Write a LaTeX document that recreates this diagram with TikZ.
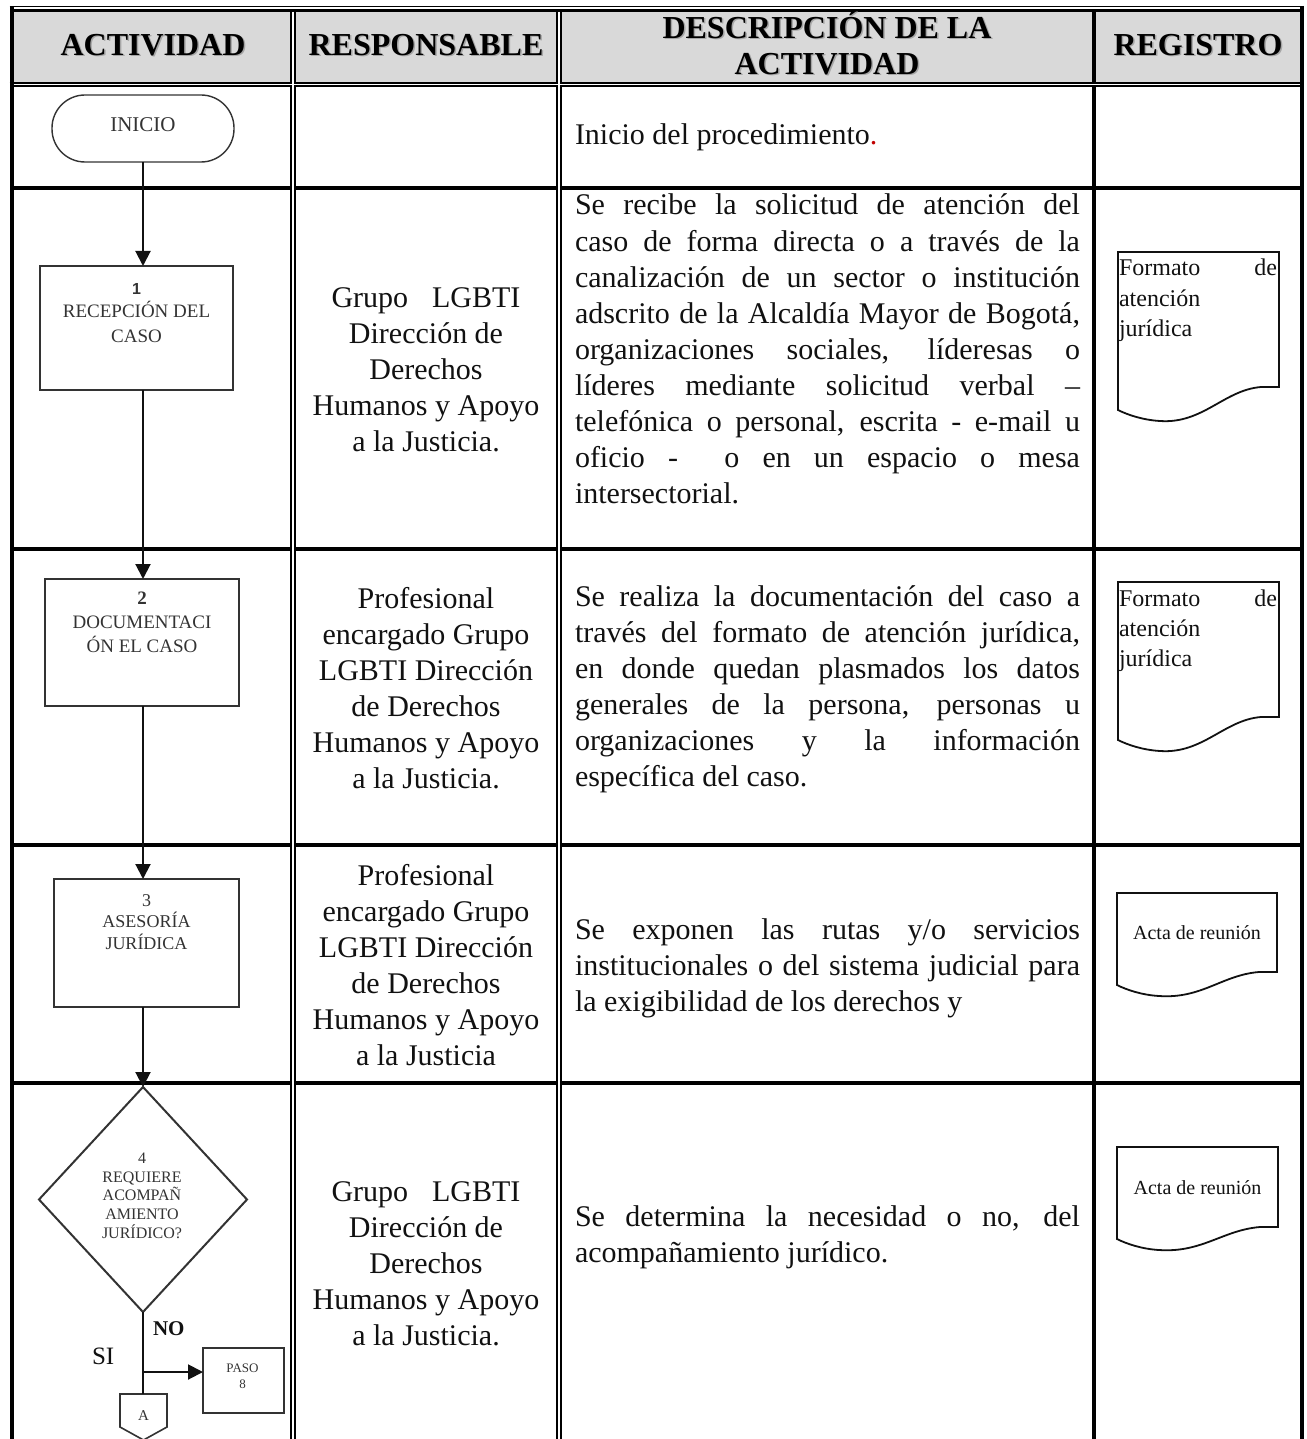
\documentclass[tikz,border=0pt]{standalone}
\usepackage{fontspec}
\setmainfont{Liberation Serif}
\newfontfamily\arialf{Liberation Sans}
\usetikzlibrary{arrows.meta,shapes.geometric}
\definecolor{hdrgray}{HTML}{D9D9D9}
\definecolor{ink}{HTML}{111111}
\definecolor{fcink}{HTML}{333333}
\definecolor{dotred}{HTML}{C00000}
\newcommand\jl[1]{\makebox[\linewidth][s]{#1}}
\newcommand\docshape[5]{%
  \draw[docline] (#1,#2) -- (#3,#2) -- (#3,#4) -- ({#3-18},#4)
    .. controls ({#3-55},{#4+3}) and ({#1+85},{#5+14}) .. ({#1+42},{#5+11})
    .. controls ({#1+25},{#5+10}) and ({#1+10},{#5+5}) .. (#1,#5) -- cycle;}
\begin{document}
\begin{tikzpicture}[x=1pt,y=-1pt,
  every node/.style={inner sep=0pt, outer sep=0pt},
  hdr/.style={anchor=base, font=\fontsize{32}{38}\selectfont\bfseries, text=black},
  hdrsh/.style={hdr, text=black!35},
  desc/.style={anchor=base west, font=\fontsize{30}{36}\selectfont, text=ink},
  resp/.style={anchor=base, font=\fontsize{30}{36}\selectfont, text=ink},
  fbox/.style={draw=fcink, line width=2pt},
  fctext/.style={anchor=base, text=fcink},
  arr/.style={draw=ink, line width=2pt, -{Triangle[width=15pt,length=15pt]}},
  flow/.style={draw=ink, line width=2pt},
  docline/.style={draw=ink, line width=1.8pt},
  regtext/.style={anchor=base west, font=\fontsize{24}{30}\selectfont, text=ink},
  acttext/.style={anchor=base, font=\fontsize{20}{24}\selectfont, text=ink},
  rowline/.style={line width=4pt, black},
  gap/.style={white}]
\useasboundingbox (0,0) rectangle (1306,1439);
% ---- table ----
\fill[hdrgray] (13,11) rectangle (1300,83);
\foreach \yy in {188,549,845,1083} \draw[rowline] (10,\yy) -- (1304,\yy);
\draw[line width=4pt] (11.5,6) -- (11.5,1445);
\draw[line width=4pt] (1302,6) -- (1302,1445);
\draw[line width=3.5pt] (1094,6) -- (1094,1445);
\draw[line width=6pt] (293,6) -- (293,1445);
\draw[line width=6pt] (559,6) -- (559,1445);
\draw[line width=6pt] (9.5,9) -- (1304,9);
\draw[line width=5.5pt] (9.5,84.5) -- (1304,84.5);
\draw[gap, line width=1.5pt] (13.5,8) -- (1300,8);
\draw[gap, line width=2pt] (293,12) -- (293,1445);
\draw[gap, line width=2pt] (559,12) -- (559,1445);
\draw[gap, line width=1.6pt] (13.5,84.5) -- (1300,84.5);
% ---- header ----
\node[hdrsh] (h1s) at (154.5,57) {ACTIVIDAD};
\node[hdr] (h1) at (153,55.5) {ACTIVIDAD};
\node[hdrsh] (h2s) at (427.5,57) {RESPONSABLE};
\node[hdr] (h2) at (426,55.5) {RESPONSABLE};
\node[hdrsh] (h3as) at (828.5,40) {DESCRIPCIÓN DE LA};
\node[hdr] (h3a) at (827,38.5) {DESCRIPCIÓN DE LA};
\node[hdrsh] (h3bs) at (828.5,76) {ACTIVIDAD};
\node[hdr] (h3b) at (827,74.5) {ACTIVIDAD};
\node[hdrsh] (h4s) at (1199.5,57) {REGISTRO};
\node[hdr] (h4) at (1198,55.5) {REGISTRO};
% ---- flowchart ----
\node[fbox, line width=1.4pt, rounded corners=33pt, minimum width=182pt, minimum height=67pt] (ini) at (143,128.5) {};
\node[fctext, font=\fontsize{21}{25}\selectfont] (init) at (143,132) {INICIO};
\node[fbox, minimum width=193pt, minimum height=124pt] (b1) at (136.5,328) {};
\node[fctext, font=\fontsize{19}{24}\selectfont] (b1t) at (136.5,294)
  {\begin{tabular}[t]{@{}c@{}}{\arialf\bfseries\fontsize{16}{24}\selectfont 1}\\RECEPCIÓN DEL\\CASO\end{tabular}};
\node[fbox, minimum width=194pt, minimum height=127pt] (b2) at (142,642.5) {};
\node[fctext, font=\fontsize{19}{24}\selectfont] (b2t) at (142,604.5)
  {\begin{tabular}[t]{@{}c@{}}\textbf{2}\\DOCUMENTACI\\ÓN EL CASO\end{tabular}};
\node[fbox, minimum width=185pt, minimum height=128pt] (b3) at (146.5,943) {};
\node[fctext, font=\fontsize{18}{21}\selectfont] (b3t) at (146.5,906)
  {\begin{tabular}[t]{@{}c@{}}3\\ASESORÍA\\JURÍDICA\end{tabular}};
\node[fbox, shape=diamond, minimum width=208pt, minimum height=225pt] (d4) at (143,1199.5) {};
\node[fctext, font=\fontsize{16}{18.5}\selectfont] (d4t) at (142,1163.5)
  {\begin{tabular}[t]{@{}c@{}}4\\REQUIERE\\ACOMPAÑ\\AMIENTO\\JURÍDICO?\end{tabular}};
\node[fbox, line width=1.6pt, minimum width=81pt, minimum height=65pt] (p8) at (243.5,1380.5) {};
\node[fctext, font=\fontsize{13}{16}\selectfont] (p8t) at (242.5,1372)
  {\begin{tabular}[t]{@{}c@{}}PASO\\8\end{tabular}};
\draw[fbox, line width=1.6pt] (120,1394) -- (167,1394) -- (167,1427) -- (143.5,1440) -- (120,1427) -- cycle;
\node[fctext, font=\fontsize{15}{18}\selectfont] (conA) at (143.5,1420) {A};
\coordinate (atop) at (143,1394);
\coordinate (jn) at (143,1372);
\draw[arr] (ini.south) -- (ini.south |- b1.north);
\draw[arr] (b1.south -| ini.south) -- (b2.north -| ini.south);
\draw[arr] (b2.south -| ini.south) -- (b3.north -| ini.south);
\draw[arr] (b3.south -| ini.south) -- (d4.north);
\draw[flow] (d4.south) -- (atop);
\draw[arr] (jn) -- (jn -| p8.west);
\node[anchor=base west, font=\fontsize{21}{25}\selectfont\bfseries, text=ink] (lno) at (153,1335) {NO};
\node[anchor=base west, font=\fontsize{25}{30}\selectfont, text=ink] (lsi) at (92,1364) {SI};
% ---- responsables ----
\node[resp] (r2) at (426,307) {\begin{minipage}[t]{262pt}\centering
Grupo\hspace{0.8em}LGBTI\\Dirección de\\Derechos\\Humanos y Apoyo\\a la Justicia.\end{minipage}};
\node[resp] (r3) at (426,608) {\begin{minipage}[t]{262pt}\centering
Profesional\\encargado Grupo\\LGBTI Dirección\\de Derechos\\Humanos y Apoyo\\a la Justicia.\end{minipage}};
\node[resp] (r4) at (426,885) {\begin{minipage}[t]{262pt}\centering
Profesional\\encargado Grupo\\LGBTI Dirección\\de Derechos\\Humanos y Apoyo\\a la Justicia\end{minipage}};
\node[resp] (r5) at (426,1201) {\begin{minipage}[t]{262pt}\centering
Grupo\hspace{0.8em}LGBTI\\Dirección de\\Derechos\\Humanos y Apoyo\\a la Justicia.\end{minipage}};
% ---- descripciones ----
\node[desc] (d1) at (575,145) {Inicio del procedimiento\textcolor{dotred}{.}};
\node[desc] (d2) at (575,215) {\begin{minipage}[t]{505pt}
\jl{Se recibe la solicitud de atención del}\\
\jl{caso de forma directa o a través de la}\\
\jl{canalización de un sector o institución}\\
\jl{adscrito de la Alcaldía Mayor de Bogotá,}\\
\jl{organizaciones sociales, líderesas o}\\
\jl{líderes mediante solicitud verbal –}\\
\jl{telefónica o personal, escrita - e-mail u}\\
\jl{oficio - \ o en un espacio o mesa}\\
intersectorial.\end{minipage}};
\node[desc] (d3) at (575,606) {\begin{minipage}[t]{505pt}
\jl{Se realiza la documentación del caso a}\\
\jl{través del formato de atención jurídica,}\\
\jl{en donde quedan plasmados los datos}\\
\jl{generales de la persona, personas u}\\
\jl{organizaciones y la información}\\
específica del caso.\end{minipage}};
\node[desc] (d4d) at (575,939) {\begin{minipage}[t]{505pt}
\jl{Se exponen las rutas y/o servicios}\\
\jl{institucionales o del sistema judicial para}\\
la exigibilidad de los derechos y\end{minipage}};
\node[desc] (d5) at (575,1226) {\begin{minipage}[t]{505pt}
\jl{Se determina la necesidad o no, del}\\
acompañamiento jurídico.\end{minipage}};
% ---- registros ----
\docshape{1118}{252}{1279}{387}{410}
\node[regtext] (g2) at (1119,276) {\begin{minipage}[t]{158pt}
\jl{Formato de}\\atención\\jurídica\end{minipage}};
\docshape{1118}{582}{1279}{717}{740}
\node[regtext] (g3) at (1119,606) {\begin{minipage}[t]{158pt}
\jl{Formato de}\\atención\\jurídica\end{minipage}};
\docshape{1117}{893}{1277}{972}{985}
\node[acttext] (g4) at (1197,939) {Acta de reunión};
\docshape{1117}{1147}{1278}{1227}{1239}
\node[acttext] (g5) at (1197.5,1194) {Acta de reunión};
\end{tikzpicture}
\end{document}
